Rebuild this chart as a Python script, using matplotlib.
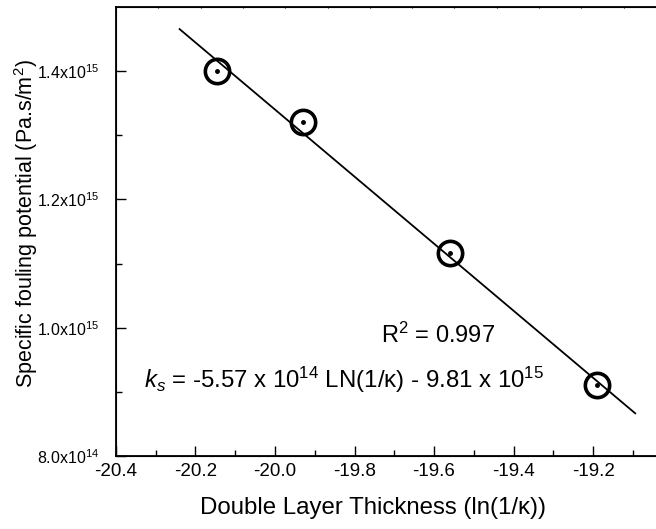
import matplotlib
matplotlib.use("Agg")
import matplotlib.pyplot as plt
import numpy as np

plt.rcParams['font.family'] = ['Liberation Sans', 'DejaVu Sans']
plt.rcParams['mathtext.fontset'] = 'custom'
plt.rcParams['mathtext.rm'] = 'Liberation Sans'
plt.rcParams['mathtext.it'] = 'Liberation Sans:italic'

# data
x_vals = [-20.146, -19.93, -19.56, -19.19]
y_vals = [1.400e15, 1.320e15, 1.116e15, 0.911e15]
fit_x = [-20.24, -19.094]
fit_y = [1.4655e15, 0.8665e15]
x_ticks = [-20.4, -20.2, -20.0, -19.8, -19.6, -19.4, -19.2]
x_tick_labels = ["-20.4", "-20.2", "-20.0", "-19.8", "-19.6", "-19.4", "-19.2"]
y_ticks = [0.8e15, 1.0e15, 1.2e15, 1.4e15]
y_tick_labels = [r"8.0x10$^{14}$", r"1.0x10$^{15}$", r"1.2x10$^{15}$", r"1.4x10$^{15}$"]

fig = plt.figure(figsize=(6.56, 5.29), dpi=100)
ax = fig.add_axes([0.1768, 0.138, 0.8485, 0.8488])

ax.plot(fit_x, fit_y, color='black', lw=1.3, zorder=2)
ax.plot(x_vals, y_vals, linestyle='none', marker='o', markersize=17.5,
        markerfacecolor='none', markeredgecolor='black', markeredgewidth=2.6, zorder=3)
ax.plot(x_vals, y_vals, linestyle='none', marker='o', markersize=2.5,
        color='black', zorder=4)

ax.set_xlim(-20.4, -19.0)
ax.set_ylim(0.8e15, 1.5e15)
ax.set_xticks(x_ticks)
ax.set_xticklabels(x_tick_labels, fontsize=13.5)
ax.set_xticks(np.arange(-20.3, -19.0, 0.2), minor=True)
ax.set_yticks(y_ticks)
ax.set_yticklabels(y_tick_labels, fontsize=11.5)
ax.set_yticks([0.9e15, 1.1e15, 1.3e15], minor=True)
ax.tick_params(which='major', direction='in', length=7, width=1.0)
ax.tick_params(which='minor', direction='in', length=4, width=1.0)
ax.tick_params(axis='x', pad=5)
ax.tick_params(axis='y', pad=12)
for s in ax.spines.values():
    s.set_linewidth(1.3)

ax2 = ax.twiny()
ax2.set_xlim(0, 1)
ax2.set_xticks(np.arange(0, 1.0, 42.3 / 556.5))
ax2.set_xticklabels([])
ax2.tick_params(direction='inout', length=2, width=0.8)

ax.set_xlabel("Double Layer Thickness (ln(1/κ))", fontsize=17.3)
ax.xaxis.set_label_coords(0.462, -0.092)
ax.set_ylabel(r"Specific fouling potential (Pa.s/m$^2$)", fontsize=15.5)
ax.yaxis.set_label_coords(-0.137, 0.518)

ax.text(-19.59, 0.988e15, r"R$^2$ = 0.997", fontsize=17, ha='center', va='center')
ax.text(-20.33, 0.918e15,
        r"$\mathit{k}_\mathit{s}$ = -5.57 x 10$^{14}$ LN(1/κ) - 9.81 x 10$^{15}$",
        fontsize=17.3, ha='left', va='center')

fig.savefig("out.png", dpi=100)
